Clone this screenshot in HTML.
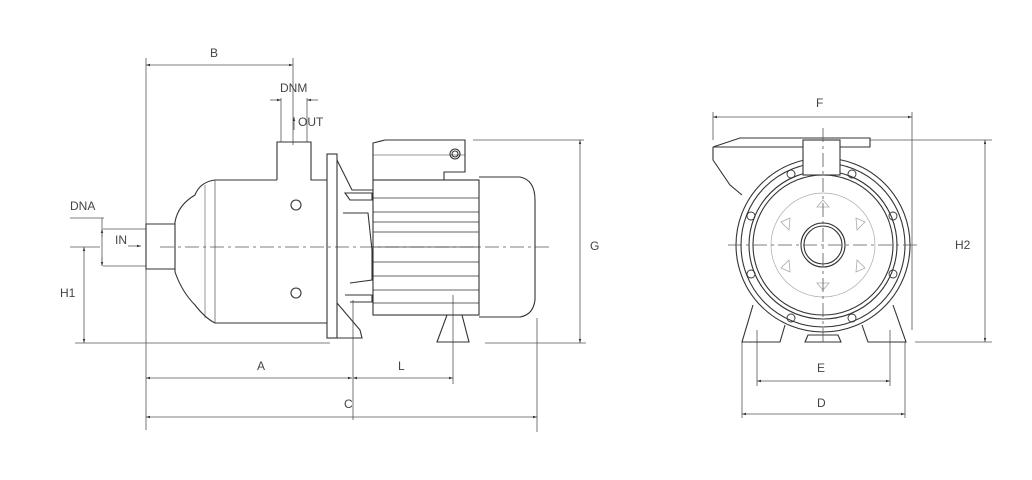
<!DOCTYPE html>
<html><head><meta charset="utf-8"><style>
html,body{margin:0;padding:0;background:#fff;}
svg{display:block}
text{font-family:"Liberation Sans Narrow","Liberation Sans",sans-serif;font-size:12px;fill:#444}
</style></head><body>
<svg width="1032" height="480" viewBox="0 0 1032 480" xmlns="http://www.w3.org/2000/svg">
<defs>
<marker id="a" viewBox="0 0 10 10" refX="10" refY="5" markerWidth="7" markerHeight="5" orient="auto-start-reverse"><path d="M0,2 L10,5 L0,8z" fill="#333"/></marker>
</defs>
<g stroke="#555" stroke-width="0.8" fill="none">
<line x1="146" y1="65" x2="293" y2="65" marker-start="url(#a)" marker-end="url(#a)"/>
<line x1="146" y1="58" x2="146" y2="430"/>
<line x1="293" y1="58" x2="293" y2="145"/>
<line x1="281" y1="98" x2="281" y2="142"/><line x1="307" y1="98" x2="307" y2="142"/>
<line x1="270" y1="100" x2="281" y2="100" marker-end="url(#a)"/><line x1="318" y1="100" x2="307" y2="100" marker-end="url(#a)"/>
<line x1="294" y1="130" x2="294" y2="117" marker-end="url(#a)"/>
<line x1="160" y1="247" x2="550" y2="247" stroke-dasharray="14,4,3,4"/>
<line x1="75" y1="343" x2="330" y2="343"/>
<line x1="70" y1="247" x2="100" y2="247"/>
<line x1="84" y1="247" x2="84" y2="343" marker-start="url(#a)" marker-end="url(#a)"/>
<line x1="70" y1="218" x2="104" y2="218"/>
<line x1="102" y1="218" x2="102" y2="266"/>
<line x1="102" y1="237" x2="102" y2="229" marker-end="url(#a)"/>
<line x1="102" y1="257" x2="102" y2="266" marker-end="url(#a)"/>
<line x1="103" y1="229" x2="146" y2="229"/><line x1="103" y1="266" x2="146" y2="266"/>
<line x1="128" y1="246" x2="141" y2="246" marker-end="url(#a)"/>
<line x1="146" y1="378" x2="352" y2="378" marker-start="url(#a)" marker-end="url(#a)"/>
<line x1="353" y1="378" x2="453" y2="378" marker-start="url(#a)" marker-end="url(#a)"/>
<line x1="353" y1="300" x2="353" y2="420"/><line x1="453" y1="295" x2="453" y2="384"/>
<line x1="146" y1="417" x2="537" y2="417" marker-start="url(#a)" marker-end="url(#a)"/>
<line x1="537" y1="318" x2="537" y2="432"/>
<line x1="473" y1="140" x2="584" y2="140"/><line x1="485" y1="343" x2="586" y2="343"/>
<line x1="580" y1="140" x2="580" y2="343" marker-start="url(#a)" marker-end="url(#a)"/>
</g>
<g stroke="#333" stroke-width="1.1" fill="none">
<path d="M175,224 L146,224 L146,269 L175,269"/>
<path d="M277,180 L277,142 L311,142 L311,180 L327,180"/>
<path d="M277,180 L215,180 Q200,182 195,195 Q178,205 175,222 L175,272 Q182,292 195,305 Q205,318 215,323 L327,323"/>
<line x1="215" y1="180" x2="215" y2="323" stroke-width="0.6"/>
<line x1="205" y1="185" x2="205" y2="318" stroke-width="0.5"/>
<circle cx="296" cy="205" r="5"/><circle cx="296" cy="293" r="5"/>
<rect x="327" y="154" width="10" height="184"/>
<path d="M337,160 L352,190 L373,190"/>
<path d="M345,193 L372,193 L372,200 L350,200 Z"/>
<path d="M343,213 L368,213 L372,250 L372,280 L350,283"/>
<path d="M345,295 L372,295 L372,302 L350,302"/>
<path d="M337,303 L360,330 L362,338 L337,338"/>
<rect x="373" y="180" width="106" height="135"/>
<g stroke-width="0.7">
<line x1="373" y1="198" x2="479" y2="198"/><line x1="373" y1="212" x2="479" y2="212"/>
<line x1="373" y1="222" x2="479" y2="222"/><line x1="373" y1="232" x2="479" y2="232"/>
<line x1="373" y1="247" x2="479" y2="247"/><line x1="373" y1="262" x2="479" y2="262"/>
<line x1="373" y1="276" x2="479" y2="276"/><line x1="373" y1="290" x2="479" y2="290"/>
<line x1="373" y1="303" x2="479" y2="303"/>
</g>
<path d="M373,180 L373,143 L385,140 L465,140 L465,172 L444,172 L444,180"/>
<line x1="373" y1="155" x2="465" y2="155" stroke-width="0.6"/>
<circle cx="455" cy="154" r="5"/><circle cx="455" cy="154" r="3"/>
<path d="M479,177 L520,177 Q535,180 535,200 L535,300 Q533,315 520,317 L479,317"/>
<path d="M437,342 L447,315 L462,315 L469,342 Z"/>
</g>
<g font-size="12">
<text x="210" y="57">B</text>
<text x="280" y="92">DNM</text>
<text x="298" y="126">OUT</text>
<text x="70" y="210">DNA</text>
<text x="115" y="244">IN</text>
<text x="60" y="297">H1</text>
<text x="257" y="370">A</text>
<text x="398" y="370">L</text>
<text x="344" y="408">C</text>
<text x="590" y="250">G</text>
<text x="816" y="107">F</text>
<text x="955" y="249">H2</text>
<text x="817" y="372">E</text>
<text x="817" y="407">D</text>
</g>
<g stroke="#555" stroke-width="0.8" fill="none">
<line x1="713" y1="117" x2="912" y2="117" marker-start="url(#a)" marker-end="url(#a)"/>
<line x1="713" y1="112" x2="713" y2="140"/>
<line x1="912" y1="112" x2="912" y2="330"/>
<line x1="870" y1="140" x2="992" y2="140"/><line x1="915" y1="342" x2="992" y2="342"/>
<line x1="985" y1="140" x2="985" y2="342" marker-start="url(#a)" marker-end="url(#a)"/>
<line x1="757" y1="330" x2="757" y2="386"/><line x1="890" y1="330" x2="890" y2="386"/>
<line x1="757" y1="381" x2="890" y2="381" marker-start="url(#a)" marker-end="url(#a)"/>
<line x1="742" y1="342" x2="742" y2="418"/><line x1="905" y1="342" x2="905" y2="418"/>
<line x1="742" y1="414" x2="905" y2="414" marker-start="url(#a)" marker-end="url(#a)"/>
</g>
<g stroke="#333" stroke-width="1.1" fill="none">
<path d="M713,147 L740,138 L870,138 L870,147 Z"/>
<path d="M713,147 L713,160 L730,185 L742,195"/>
<path d="M753,305 L742,342 L780,342 L785,325"/>
<path d="M893,305 L906,342 L868,342 L862,325"/>
<path d="M805,342 L808,335 L838,335 L841,342 Z"/>
<circle cx="823" cy="245" r="87" fill="#fff"/>
<circle cx="823" cy="245" r="82"/>
<circle cx="823" cy="245" r="74"/>
<circle cx="823" cy="245" r="70"/>
<circle cx="823" cy="245" r="52" stroke="#aaa" stroke-width="0.7"/>
<circle cx="823" cy="245" r="22"/>
<circle cx="823" cy="245" r="19"/>
<rect x="803" y="140" width="37" height="35" fill="#fff"/>
<g stroke-width="0.9">
<circle cx="791" cy="174" r="4"/><circle cx="852" cy="174" r="4"/>
<circle cx="751" cy="216" r="4"/><circle cx="893" cy="216" r="4"/>
<circle cx="751" cy="274" r="4"/><circle cx="893" cy="274" r="4"/>
<circle cx="791" cy="318" r="4"/><circle cx="852" cy="318" r="4"/>
</g>
<g stroke="#aaa" stroke-width="0.8">
<path d="M817,207 L823,200 L829,207 Z"/><path d="M817,283 L823,290 L829,283 Z"/>
<path d="M781,222 L790,218 L789,230 Z"/><path d="M865,222 L856,218 L857,230 Z"/>
<path d="M781,268 L790,272 L789,260 Z"/><path d="M865,268 L856,272 L857,260 Z"/>
</g>
</g>
<g stroke="#555" stroke-width="0.8" fill="none">
<line x1="823" y1="128" x2="823" y2="345" stroke-dasharray="14,4,3,4"/>
<line x1="728" y1="245" x2="918" y2="245" stroke-dasharray="14,4,3,4"/>
</g>
</svg>
</body></html>
